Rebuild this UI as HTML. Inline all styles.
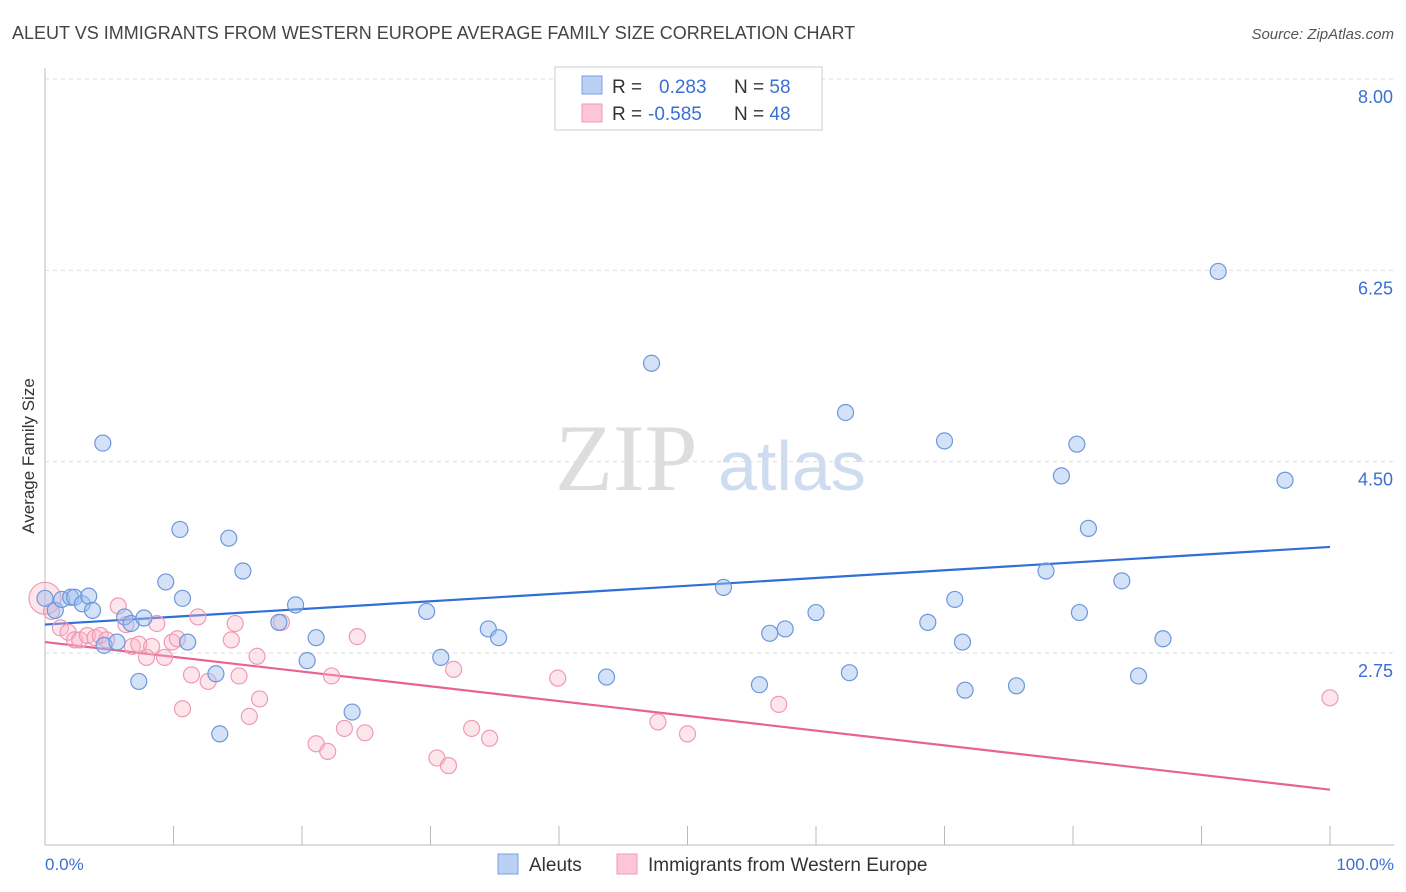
<!DOCTYPE html>
<html><head><meta charset="utf-8"><style>
body{margin:0;background:#fff;font-family:"Liberation Sans",sans-serif;}
svg{display:block}
</style></head><body>
<svg width="1406" height="892" id="chart">
<text x="12" y="39" font-size="18" fill="#444">ALEUT VS IMMIGRANTS FROM WESTERN EUROPE AVERAGE FAMILY SIZE CORRELATION CHART</text>
<text x="1394" y="39" font-size="15" fill="#555" font-style="italic" text-anchor="end">Source: ZipAtlas.com</text>
<text x="34" y="456" font-size="17" fill="#333" text-anchor="middle" transform="rotate(-90 34 456)">Average Family Size</text>
<text x="555" y="490" font-size="95" fill="#ddd" font-family="Liberation Serif,serif">ZIP</text>
<text x="718" y="490" font-size="70" fill="#cfdcf0">atlas</text>
<line x1="45" y1="68" x2="45" y2="845" stroke="#bbb"/>
<line x1="45" y1="845" x2="1394" y2="845" stroke="#bbb"/>
<g id="grid"></g><g id="ticks"></g><g id="lines"></g><g id="pts"></g>
<text x="45" y="870" font-size="17" fill="#3b6fd4">0.0%</text>
<text x="1394" y="870" font-size="17" fill="#3b6fd4" text-anchor="end">100.0%</text>
<g>
<rect x="555" y="67" width="267" height="63" fill="#fff" stroke="#ccc"/>
<rect x="582" y="76" width="20" height="18" fill="#b9cff3" stroke="#7aa0e0"/>
<rect x="582" y="104" width="20" height="18" fill="#fcc6d6" stroke="#f09ab4"/>
<text x="612" y="93" font-size="19" fill="#333">R = <tspan fill="#3b6fd4" x="659">0.283</tspan><tspan x="734" fill="#333">N = </tspan><tspan fill="#3b6fd4">58</tspan></text>
<text x="612" y="120" font-size="19" fill="#333">R = <tspan fill="#3b6fd4" x="648">-0.585</tspan><tspan x="734" fill="#333">N = </tspan><tspan fill="#3b6fd4">48</tspan></text>
</g>
<g>
<rect x="498" y="854" width="20" height="20" fill="#b9cff3" stroke="#7aa0e0"/>
<text x="529" y="871" font-size="19" fill="#333">Aleuts</text>
<rect x="617" y="854" width="20" height="20" fill="#fcc6d6" stroke="#f09ab4"/>
<text x="648" y="871" font-size="19" fill="#333">Immigrants from Western Europe</text>
</g>
</svg>
<script>
const yTicks=[8.00,6.25,4.50,2.75];
const yTickLabels=["8.00","6.25","4.50","2.75"];
const xTicks=[0,10,20,30,40,50,60,70,80,90,100];
const aleutX=[0,0.8,1.3,2,2.3,2.9,3.4,3.7,4.5,4.6,5.6,6.2,6.7,7.3,7.7,9.4,10.5,10.7,11.1,13.3,13.6,14.3,15.4,18.2,19.5,20.4,21.1,23.9,29.7,30.8,34.5,35.3,43.7,47.2,52.8,55.6,56.4,57.6,60,62.3,62.6,68.7,70,70.8,71.4,71.6,75.6,77.9,79.1,80.3,80.5,81.2,83.8,85.1,87,91.3,96.5];
const aleutY=[3.25,3.14,3.24,3.26,3.26,3.20,3.27,3.14,4.67,2.82,2.85,3.08,3.02,2.49,3.07,3.40,3.88,3.25,2.85,2.56,2.01,3.80,3.50,3.03,3.19,2.68,2.89,2.21,3.13,2.71,2.97,2.89,2.53,5.40,3.35,2.46,2.93,2.97,3.12,4.95,2.57,3.03,4.69,3.24,2.85,2.41,2.45,3.50,4.37,4.66,3.12,3.89,3.41,2.54,2.88,6.24,4.33];
const immX=[0,0.5,1.2,1.8,2.3,2.7,3.3,3.9,4.3,4.8,5.7,6.3,6.8,7.3,7.9,8.3,8.7,9.3,9.9,10.3,10.7,11.4,11.9,12.7,14.5,14.8,15.1,15.9,16.5,16.7,18.4,21.1,22,22.3,23.3,24.3,24.9,30.5,31.4,31.8,33.2,34.6,39.9,47.7,50,57.1,100];
const immY=[3.25,3.13,2.98,2.94,2.87,2.87,2.91,2.89,2.91,2.87,3.18,3.01,2.81,2.83,2.71,2.81,3.02,2.71,2.85,2.88,2.24,2.55,3.08,2.49,2.87,3.02,2.54,2.17,2.72,2.33,3.03,1.92,1.85,2.54,2.06,2.90,2.02,1.79,1.72,2.60,2.06,1.97,2.52,2.12,2.01,2.28,2.34];
const blueLine=[3.01,3.72];
const pinkLine=[2.85,1.50];
const NS="http://www.w3.org/2000/svg";
const X=p=>45+p*12.85, Y=v=>653-(v-2.75)*109.33;
function mk(t,a,parent){const e=document.createElementNS(NS,t);for(const k in a)e.setAttribute(k,a[k]);document.getElementById(parent).appendChild(e);return e;}
yTicks.forEach((v,i)=>{
 const l=mk('line',{x1:45,x2:1394,y1:Y(v),y2:Y(v),stroke:'#ddd','stroke-dasharray':'4,4'},'grid');
 
 
 const t=mk('text',{x:1393,y:Y(v)+24,'font-size':18,fill:'#3b6fd4','text-anchor':'end'},'grid');
 t.textContent=yTickLabels[i];
 
 
});
xTicks.forEach(p=>{
 const l=mk('line',{x1:X(p),x2:X(p),y1:826,y2:845,stroke:'#bbb'},'ticks');
 
 
});
let bl=mk('line',{x1:X(0),y1:Y(blueLine[0]),x2:X(100),y2:Y(blueLine[1]),stroke:'#2f6fd6','stroke-width':2.2},'lines');


let pl=mk('line',{x1:X(0),y1:Y(pinkLine[0]),x2:X(100),y2:Y(pinkLine[1]),stroke:'#e8638f','stroke-width':2.2},'lines');


immX.forEach((x,i)=>{
 const c=mk('circle',{cx:X(x),cy:Y(immY[i]),r:i==0?16:8,fill:'rgba(248,180,200,0.35)',stroke:'#f09ab4','stroke-width':1.2},'pts');
 
 
});
aleutX.forEach((x,i)=>{
 const c=mk('circle',{cx:X(x),cy:Y(aleutY[i]),r:8,fill:'rgba(160,190,240,0.45)',stroke:'#6d97dc','stroke-width':1.2},'pts');
 
 
});
</script>
</body></html>
